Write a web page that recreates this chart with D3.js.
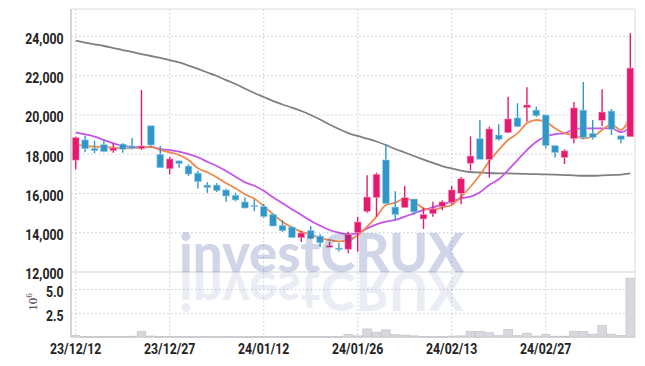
<!DOCTYPE html>
<html>
<head>
<meta charset="utf-8">
<script src="https://cdn.jsdelivr.net/npm/d3@7"></script>
<style>
  body { margin: 0; background: #fff; }
</style>
</head>
<body>
<div id="chart"></div>
<script>
// trading days (yy/mm/dd)
var dates = ["23/12/12","23/12/13","23/12/14","23/12/15","23/12/18","23/12/19","23/12/20","23/12/21","23/12/22","23/12/26",
  "23/12/27","23/12/28","24/01/02","24/01/03","24/01/04","24/01/05","24/01/08","24/01/09","24/01/10","24/01/11",
  "24/01/12","24/01/15","24/01/16","24/01/17","24/01/18","24/01/19","24/01/22","24/01/23","24/01/24","24/01/25",
  "24/01/26","24/01/29","24/01/30","24/01/31","24/02/01","24/02/02","24/02/05","24/02/06","24/02/07","24/02/08",
  "24/02/13","24/02/14","24/02/15","24/02/16","24/02/19","24/02/20","24/02/21","24/02/22","24/02/23","24/02/26",
  "24/02/27","24/02/28","24/02/29","24/03/04","24/03/05","24/03/06","24/03/07","24/03/08","24/03/11","24/03/12"];

var opens = [17700,18730,18300,18490,18180,18520,18420,18280,19450,18000,
  17260,17660,17400,17040,16430,16430,16180,15910,15570,15400,
  15330,14940,14380,14290,13750,14120,13830,13290,13220,13160,
  14000,15090,15790,17710,15310,15280,15720,14700,14970,15330,
  15530,16010,17540,18790,17740,18980,19100,19850,20370,20250,
  20000,18440,17840,18790,20250,19070,19730,20200,18940,18890];
var highs = [18900,18940,18690,18760,18560,18560,18830,21270,19450,18420,
  17870,17690,17490,17160,16570,16520,16240,16040,15810,15700,
  15460,14990,14650,14340,14090,14340,13940,13540,13490,14050,
  14820,16930,17060,18510,16110,16380,15720,15280,15580,15650,
  16380,16840,18910,19740,19400,19530,20930,20600,21410,20420,
  20000,18440,18250,20660,21680,19740,21310,20300,18940,24160];
var lows = [17230,18100,18050,18100,18080,18080,18250,18220,18380,17310,
  16980,17310,16890,16260,16040,16080,15580,15600,15230,15090,
  14770,14340,14050,13750,13530,13670,13270,13270,13050,12950,
  13030,15020,14820,15480,14630,15280,14920,14190,14820,15140,
  15450,15450,17180,17740,16800,18690,19070,19400,19660,19900,
  18300,17840,17500,18560,18760,18750,19440,18980,18560,18890];
var closes = [18850,18280,18180,18130,18320,18250,18300,18420,18470,17310,
  17760,17520,16990,16600,16300,16140,15870,15670,15260,15330,
  14820,14340,14100,13750,13990,13700,13490,13340,13160,13920,
  14550,15820,16980,15480,14920,15790,15060,14940,15210,15570,
  16180,16750,17910,17740,19290,18760,19800,19400,20510,19960,
  18440,18080,18170,20360,18840,18860,20150,19270,18750,22390];

// volume, millions of shares
var volumes = [0.15,0.05,0.04,0.06,0.05,0.04,0.08,0.6,0.1,0.06,
  0.08,0.05,0.06,0.05,0.04,0.03,0.05,0.04,0.03,0.04,
  0.05,0.05,0.06,0.05,0.04,0.05,0.06,0.04,0.05,0.28,
  0.12,0.85,0.5,0.75,0.25,0.2,0.12,0.06,0.04,0.05,
  0.1,0.12,0.6,0.6,0.45,0.14,0.8,0.14,0.4,0.1,
  0.28,0.08,0.08,0.6,0.6,0.3,1.2,0.3,0.15,6.2];

// moving averages
var ma5 = [18505,18420,18385,18370,18335,18300,18300,18335,18385,18215,
  18100,17960,17705,17285,17080,16825,16520,16265,15960,15735,
  15365,14940,14565,14275,14055,13920,13730,13630,13565,13605,
  13885,14310,14820,15415,15530,15755,15580,15245,15160,15295,
  15415,15835,16345,16940,17650,18215,18725,19065,19575,19745,
  19660,19320,19065,18980,18810,18895,19235,19525,19235,19915];
var ma20 = [19120,19015,18895,18725,18555,18435,18385,18355,18370,18265,
  18215,18130,18010,17845,17620,17400,17145,16855,16570,16395,
  16140,15805,15500,15195,14905,14615,14360,14140,14000,13925,
  13970,14225,14430,14565,14650,14820,14990,15160,15295,15450,
  15580,15755,15835,16060,16435,16725,17195,17705,18215,18640,
  18895,19030,19065,19270,19320,19320,19320,19320,19120,19370];
var ma120 = [23785,23690,23600,23515,23410,23310,23210,23105,23005,22905,
  22800,22675,22520,22345,22165,21985,21780,21580,21350,21120,
  20915,20710,20535,20380,20205,20000,19770,19515,19285,19080,
  18930,18800,18650,18470,18265,18090,17910,17730,17555,17400,
  17275,17170,17095,17070,17045,17030,17020,17010,16995,16985,
  16975,16960,16940,16920,16905,16905,16920,16940,16965,17030];

var priceTicks = [12000,14000,16000,18000,20000,22000,24000];
var volTicks = [2.5,5.0];
var dateTicks = ["23/12/12","23/12/27","24/01/12","24/01/26","24/02/13","24/02/27"];

// set the dimensions of the graph
var width = 645, height = 366;
var plotLeft = 71, plotRight = 635, plotTop = 9, priceBottom = 272, volBottom = 337;

var upColor = "#e5196f", downColor = "#3197c9";
var gridColor = "#c6c8dc";
var labelFont = "Roboto, sans-serif";

var data = dates.map(function(d, i) {
  return {date: d, open: opens[i], high: highs[i], low: lows[i], close: closes[i],
    volume: volumes[i], ma5: ma5[i], ma20: ma20[i], ma120: ma120[i]};
});

var svg = d3.select("#chart")
  .append("svg")
  .attr("width", width)
  .attr("height", height)
  .style("display", "block");

// scales
var x = d3.scaleBand().domain(dates).range([plotLeft, plotRight]).paddingInner(0.28).paddingOuter(0.14);
var xv = d3.scaleBand().domain(dates).range([plotLeft, plotRight]).paddingInner(0.08).paddingOuter(0.04);
var xc = function(d) { return x(d) + x.bandwidth() / 2; };
var y = d3.scaleLinear().domain([12000, 25400]).range([priceBottom, plotTop]);
var yv = d3.scaleLinear().domain([0, 6.85]).range([volBottom, priceBottom]);

// grid
svg.append("g").selectAll("line")
  .data(priceTicks.slice(1))
  .enter().append("line")
  .attr("x1", plotLeft).attr("x2", plotRight)
  .attr("y1", function(d) { return y(d); }).attr("y2", function(d) { return y(d); })
  .attr("stroke", gridColor).attr("stroke-dasharray", "1.5,2.5");

svg.append("g").selectAll("line")
  .data(volTicks)
  .enter().append("line")
  .attr("x1", plotLeft).attr("x2", plotRight)
  .attr("y1", function(d) { return yv(d); }).attr("y2", function(d) { return yv(d); })
  .attr("stroke", gridColor).attr("stroke-dasharray", "1.5,2.5");

svg.append("g").selectAll("line")
  .data(dateTicks)
  .enter().append("line")
  .attr("x1", function(d) { return xc(d); }).attr("x2", function(d) { return xc(d); })
  .attr("y1", plotTop).attr("y2", volBottom)
  .attr("stroke", gridColor).attr("stroke-dasharray", "1.5,2.5");

// frame
svg.append("line").attr("x1", plotLeft).attr("x2", plotRight).attr("y1", plotTop).attr("y2", plotTop).attr("stroke", "#dcdcdc");
svg.append("line").attr("x1", plotRight).attr("x2", plotRight).attr("y1", plotTop).attr("y2", volBottom).attr("stroke", "#dcdcdc");
svg.append("line").attr("x1", plotLeft).attr("x2", plotLeft).attr("y1", plotTop).attr("y2", volBottom).attr("stroke", "#c8c8c8").attr("stroke-width", 1.5);
svg.append("line").attr("x1", plotLeft).attr("x2", plotRight).attr("y1", priceBottom).attr("y2", priceBottom).attr("stroke", "#cfcfd6");
svg.append("line").attr("x1", plotLeft).attr("x2", plotRight).attr("y1", volBottom).attr("y2", volBottom).attr("stroke", "#c8c8c8");

// volume bars
svg.append("g").selectAll("rect")
  .data(data)
  .enter().append("rect")
  .attr("x", function(d) { return xv(d.date); })
  .attr("y", function(d) { return yv(d.volume); })
  .attr("width", xv.bandwidth())
  .attr("height", function(d) { return Math.max(0.8, yv(0) - yv(d.volume)); })
  .attr("fill", "#d8d8de")
  .attr("stroke", "#c3c3cb")
  .attr("stroke-width", 0.7);

// moving average lines
var line = function(key) {
  return d3.line()
    .x(function(d) { return xc(d.date); })
    .y(function(d) { return y(d[key]); })
    .curve(d3.curveMonotoneX);
};
svg.append("path").datum(data).attr("d", line("ma120"))
  .attr("fill", "none").attr("stroke", "#7f7f7f").attr("stroke-width", 1.8);
svg.append("path").datum(data).attr("d", line("ma20"))
  .attr("fill", "none").attr("stroke", "#c653ea").attr("stroke-width", 1.8);
svg.append("path").datum(data).attr("d", line("ma5"))
  .attr("fill", "none").attr("stroke", "#ef8a4c").attr("stroke-width", 1.8);

// candles
var candle = svg.append("g").selectAll("g")
  .data(data)
  .enter().append("g");

candle.append("line")
  .attr("x1", function(d) { return xc(d.date); })
  .attr("x2", function(d) { return xc(d.date); })
  .attr("y1", function(d) { return y(d.high); })
  .attr("y2", function(d) { return y(d.low); })
  .attr("stroke", function(d) { return d.close >= d.open ? upColor : downColor; })
  .attr("stroke-width", 1.4);

candle.append("rect")
  .attr("x", function(d) { return x(d.date); })
  .attr("y", function(d) { return y(Math.max(d.open, d.close)); })
  .attr("width", x.bandwidth())
  .attr("height", function(d) { return Math.max(1.5, Math.abs(y(d.open) - y(d.close))); })
  .attr("fill", function(d) { return d.close >= d.open ? upColor : downColor; })
  .attr("stroke", function(d) { return d.close >= d.open ? "#f5a6c6" : "#a9d3ea"; })
  .attr("stroke-width", 0.6);

// watermark with reflection
var mark = svg.append("g").attr("pointer-events", "none");
mark.append("text")
  .attr("x", 179).attr("y", priceBottom)
  .attr("textLength", 285).attr("lengthAdjust", "spacingAndGlyphs")
  .style("font-family", "Lato, 'DejaVu Sans', sans-serif")
  .style("font-weight", "900").style("font-size", "54px")
  .attr("fill", "#2a3f94").attr("fill-opacity", 0.22)
  .text("investCRUX");
mark.append("text")
  .attr("x", 179).attr("y", priceBottom)
  .attr("transform", "translate(0," + (2 * priceBottom) + ") scale(1,-1)")
  .attr("textLength", 285).attr("lengthAdjust", "spacingAndGlyphs")
  .style("font-family", "Lato, 'DejaVu Sans', sans-serif")
  .style("font-weight", "900").style("font-size", "54px")
  .attr("fill", "#2a3f94").attr("fill-opacity", 0.1)
  .text("investCRUX");

// narrow the axis labels
var styleLabels = function(sel) {
  sel.style("font-family", labelFont).style("font-weight", "bold").style("font-size", "15px")
    .attr("fill", "#222")
    .attr("transform", "scale(0.82,1)");
};

// Y axis (price)
svg.append("g")
  .attr("transform", "translate(" + (plotLeft - 5) + ",2)")
  .call(d3.axisLeft(y).tickValues(priceTicks).tickFormat(d3.format(",")).tickSize(0))
  .call(function(g) { g.select(".domain").remove(); })
  .selectAll("text")
  .call(styleLabels);

// Y axis (volume)
svg.append("g")
  .attr("transform", "translate(" + (plotLeft - 5) + ",2)")
  .call(d3.axisLeft(yv).tickValues(volTicks).tickFormat(d3.format(".1f")).tickSize(0))
  .call(function(g) { g.select(".domain").remove(); })
  .selectAll("text")
  .call(styleLabels);

// volume unit
var unit = svg.append("text")
  .attr("transform", "translate(37,302) rotate(-90)")
  .attr("text-anchor", "middle")
  .style("font-family", "'Liberation Serif', serif").style("font-size", "13px")
  .attr("fill", "#333");
unit.append("tspan").text("10");
unit.append("tspan").attr("dy", -5).style("font-size", "9px").text("6");

// X axis
svg.append("g")
  .attr("transform", "translate(0," + (volBottom + 3) + ")")
  .call(d3.axisBottom(x).tickValues(dateTicks).tickSize(0))
  .call(function(g) { g.select(".domain").remove(); })
  .selectAll("text")
  .call(styleLabels);
</script>
</body>
</html>
